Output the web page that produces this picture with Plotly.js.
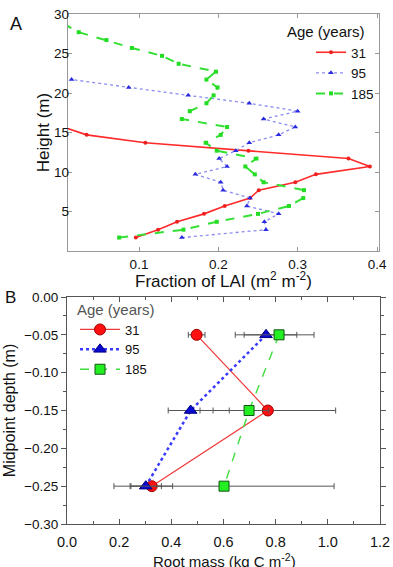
<!DOCTYPE html>
<html>
<head>
<meta charset="utf-8">
<script src="https://cdn.plot.ly/plotly-3.0.1.min.js"></script>
<style>
html,body{margin:0;padding:0;background:#fff;}
#chart{width:393px;height:567px;}
</style>
</head>
<body>
<div id="chart"></div>
<script>
// ---------- Panel A: fraction of LAI by height ----------
const ageLabels = ["31", "95", "185"];
const heightA31 = [1.7,2.7,3.7,4.7,5.7,6.7,7.7,8.7,9.7,10.7,11.7,12.7,13.7,14.7,15.7];
const laiA31 = [0.096,0.124,0.148,0.182,0.208,0.240,0.251,0.297,0.323,0.391,0.364,0.238,0.108,0.034,0.004];
const heightA95 = [1.7,2.7,3.7,4.7,5.7,6.7,7.7,8.7,9.7,10.7,11.7,12.7,13.7,14.7,15.7,16.7,17.7,18.7,19.7,20.7,21.7];
const laiA95 = [0.154,0.260,0.258,0.276,0.236,0.240,0.206,0.203,0.171,0.211,0.201,0.222,0.239,0.276,0.297,0.257,0.300,0.239,0.162,0.087,0.015];
const heightA185 = [1.7,2.7,3.7,4.7,5.7,6.7,7.7,8.7,9.7,10.7,11.7,12.7,13.7,14.7,15.7,16.7,17.7,18.7,19.7,20.7,21.7,22.7,23.7,24.7,25.7,26.7,27.7,28.7];
const laiA185 = [0.075,0.156,0.198,0.250,0.289,0.307,0.308,0.257,0.246,0.234,0.248,0.198,0.184,0.203,0.211,0.154,0.164,0.185,0.194,0.199,0.185,0.197,0.150,0.129,0.091,0.059,0.024,0.006];
const tickValsAx = [0.1, 0.2, 0.3, 0.4];
const tickValsAy = [5, 10, 15, 20, 25, 30];

// ---------- Panel B: root mass by midpoint depth ----------
const depthB = [-0.05, -0.15, -0.25];
const root31 = [0.497, 0.770, 0.325];
const err31 = [0.032, 0.260, 0.080];
const root95 = [0.763, 0.474, 0.302];
const err95 = [0.118, 0.086, 0.060];
const root185 = [0.813, 0.698, 0.602];
const err185 = [0.134, 0.076, 0.422];

const FONT = "'Liberation Sans', Arial, sans-serif";
const errStyle = {type: "data", visible: true, color: "#555", thickness: 1, width: 3};

const traces = [
  {x: laiA31, y: heightA31, name: ageLabels[0], xaxis: "x", yaxis: "y", mode: "lines+markers",
   line: {color: "#ff2a2a", width: 1.6}, marker: {symbol: "circle", size: 4, color: "#ee2020"}, legend: "legend"},
  {x: laiA95, y: heightA95, name: ageLabels[1], xaxis: "x", yaxis: "y", mode: "lines+markers",
   line: {color: "#8c8cf0", width: 1.3, dash: "dot"}, marker: {symbol: "triangle-up", size: 5, color: "#2a2ae0"}, legend: "legend"},
  {x: laiA185, y: heightA185, name: ageLabels[2], xaxis: "x", yaxis: "y", mode: "lines+markers",
   line: {color: "#33e033", width: 2, dash: "dash"}, marker: {symbol: "square", size: 4, color: "#22dd22"}, legend: "legend"},

  {x: root31, y: depthB, name: ageLabels[0], xaxis: "x2", yaxis: "y2", mode: "lines+markers",
   error_x: Object.assign({array: err31}, errStyle),
   line: {color: "#f03a3a", width: 1.2}, marker: {symbol: "circle", size: 11, color: "#ff1010", line: {color: "#a00000", width: 1}}, legend: "legend2"},
  {x: root95, y: depthB, name: ageLabels[1], xaxis: "x2", yaxis: "y2", mode: "lines+markers",
   error_x: Object.assign({array: err95}, errStyle),
   line: {color: "#3a3aff", width: 2.5, dash: "dot"}, marker: {symbol: "triangle-up", size: 11, color: "#0a0ad0", line: {color: "#000080", width: 1}}, legend: "legend2"},
  {x: root185, y: depthB, name: ageLabels[2], xaxis: "x2", yaxis: "y2", mode: "lines+markers",
   error_x: Object.assign({array: err185}, errStyle),
   line: {color: "#40dd40", width: 1.4, dash: "dash"}, marker: {symbol: "square", size: 10, color: "#22ee22", line: {color: "#115511", width: 1}}, legend: "legend2"}
];

const W = 393, H = 567;
const layout = {
  width: W, height: H,
  margin: {l: 0, r: 0, t: 0, b: 0},
  paper_bgcolor: "#fff", plot_bgcolor: "#fff",
  font: {family: FONT, color: "#111", size: 13},
  showlegend: true,
  xaxis: {
    domain: [68 / W, 379 / W], anchor: "y", range: [0.0105, 0.4025],
    tickvals: tickValsAx, ticktext: tickValsAx.map(v => v.toFixed(1)),
    ticks: "inside", ticklen: 4, tickcolor: "#999", showline: true, linecolor: "#999", linewidth: 1.3, mirror: "ticks",
    showgrid: false, zeroline: false, tickfont: {size: 13.5}
  },
  yaxis: {
    domain: [1 - 251 / H, 1 - 14 / H], anchor: "x", range: [0, 30],
    tickvals: tickValsAy, ticktext: tickValsAy.map(String),
    ticks: "inside", ticklen: 4, tickcolor: "#999", showline: true, linecolor: "#999", linewidth: 1.3, mirror: "ticks",
    showgrid: false, zeroline: false, tickfont: {size: 13.5}, ticklabelstandoff: -5,
    title: {text: "Height (m)", font: {size: 17}, standoff: 0}
  },
  xaxis2: {
    domain: [67 / W, 380 / W], anchor: "y2", range: [0, 1.2], dtick: 0.2, tick0: 0, tickformat: ".1f",
    ticks: "inside", ticklen: 5, tickcolor: "#555", showline: true, linecolor: "#555", linewidth: 1, mirror: "ticks",
    minor: {dtick: 0.1, ticks: "inside", ticklen: 3, tickcolor: "#555"},
    showgrid: false, zeroline: false, tickfont: {size: 14.5}, ticklabelstandoff: 5
  },
  yaxis2: {
    domain: [1 - 524 / H, 1 - 297 / H], anchor: "x2", range: [-0.30, 0.0], dtick: 0.05, tick0: 0, tickformat: ".2f",
    ticks: "outside", ticklen: 5, tickcolor: "#555", showline: true, linecolor: "#555", linewidth: 1, mirror: "ticks",
    minor: {dtick: 0.025, ticks: "outside", ticklen: 3, tickcolor: "#555"},
    showgrid: false, zeroline: false, tickfont: {size: 13.5},
    title: {text: "Midpoint depth (m)", font: {size: 16}, standoff: 4}
  },
  legend: {
    x: 311 / W, y: 1 - 37 / H, xanchor: "left", yanchor: "top",
    bgcolor: "rgba(0,0,0,0)", font: {size: 13.5}, itemwidth: 30, tracegroupgap: 0
  },
  legend2: {
    x: 75 / W, y: 1 - 295 / H, xanchor: "left", yanchor: "top",
    bgcolor: "rgba(0,0,0,0)", font: {size: 13}, itemwidth: 40,
    title: {text: "Age (years)", font: {size: 15, color: "#555"}}
  },
  annotations: [
    {text: "Fraction of LAI (m<sup>2</sup> m<sup>-2</sup>)", x: 223.5 / W, y: 1 - 280 / H, xref: "paper", yref: "paper",
     showarrow: false, font: {size: 17}, xanchor: "center", yanchor: "middle"},
    {text: "Root mass (kg C m<sup>-2</sup>)", x: 224 / W, y: 1 - 560 / H, xref: "paper", yref: "paper",
     showarrow: false, font: {size: 15}, xanchor: "center", yanchor: "middle"},
    {text: "Age (years)", x: 325.5 / W, y: 1 - 31 / H, xref: "paper", yref: "paper", showarrow: false,
     font: {size: 15}, xanchor: "center", yanchor: "middle"},
    {text: "A", x: 16 / W, y: 1 - 24 / H, xref: "paper", yref: "paper", showarrow: false,
     font: {size: 18}, xanchor: "center", yanchor: "middle"},
    {text: "B", x: 10 / W, y: 1 - 297 / H, xref: "paper", yref: "paper", showarrow: false,
     font: {size: 17}, xanchor: "center", yanchor: "middle"}
  ]
};

Plotly.newPlot("chart", traces, layout, {displayModeBar: false, staticPlot: true});
</script>
</body>
</html>
